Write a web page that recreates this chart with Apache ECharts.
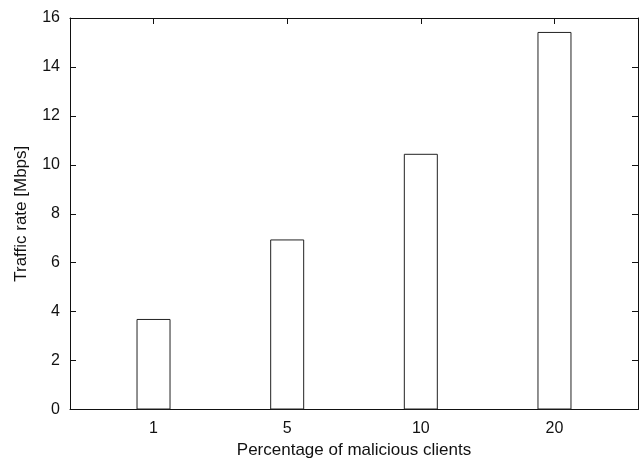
<!DOCTYPE html>
<html>
<head>
<meta charset="utf-8">
<script src="https://cdn.jsdelivr.net/npm/echarts@6/dist/echarts.min.js"></script>
<style>html,body{margin:0;padding:0;background:#fff}#c{width:641px;height:459px}</style>
</head>
<body>
<div id="c"></div>
<script>
const categories = ['1', '5', '10', '20'];
const trafficRate = [3.7, 6.95, 10.45, 15.43];
const yTicks = [0, 2, 4, 6, 8, 10, 12, 14, 16];

const positions = categories.map((c, i) => i + 1);
const font = 'Liberation Sans, Arial, Helvetica, sans-serif';
const lineColor = '#111';

const chart = echarts.init(document.getElementById('c'), null, {renderer: 'canvas'});
const xBase = {
  type: 'value', min: 0.375, max: 4.625,
  splitLine: {show: false},
  axisLine: {show: true, onZero: false, lineStyle: {color: lineColor, width: 1}},
  axisTick: {show: true, inside: true, length: 6, customValues: positions, lineStyle: {color: lineColor}}
};
const yBase = {
  type: 'value', min: 0, max: 16, interval: 2,
  splitLine: {show: false},
  axisLine: {show: true, lineStyle: {color: lineColor, width: 1}},
  axisTick: {show: true, inside: true, length: 6, lineStyle: {color: lineColor}}
};
chart.setOption({
  animation: false,
  backgroundColor: '#fff',
  grid: {left: 70, right: 3, top: 18, bottom: 49.5, containLabel: false, outerBoundsMode: 'none'},
  xAxis: [
    Object.assign({}, xBase, {
      position: 'bottom',
      name: 'Percentage of malicious clients', nameLocation: 'middle', nameGap: 30,
      nameTextStyle: {fontFamily: font, fontSize: 17, color: '#111'},
      axisLabel: {show: true, customValues: positions, margin: 11,
        fontFamily: font, fontSize: 16, color: '#111',
        formatter: v => categories[Math.round(v) - 1]}
    }),
    Object.assign({}, xBase, {position: 'top', axisLabel: {show: false}})
  ],
  yAxis: [
    Object.assign({}, yBase, {
      position: 'left',
      name: 'Traffic rate [Mbps]', nameLocation: 'middle', nameGap: 40, nameRotate: 90,
      nameTextStyle: {fontFamily: font, fontSize: 17, color: '#111', padding: [0, 0, 0, 0]},
      axisLabel: {show: true, margin: 10, fontFamily: font, fontSize: 16, color: '#111',
        customValues: yTicks}
    }),
    Object.assign({}, yBase, {position: 'right', axisLabel: {show: false}})
  ],
  series: [{
    type: 'bar',
    xAxisIndex: 0, yAxisIndex: 0,
    barWidth: 34,
    data: positions.map((p, i) => [p, trafficRate[i]]),
    itemStyle: {color: '#fff', borderColor: '#222', borderWidth: 1}
  }]
});
</script>
</body>
</html>
